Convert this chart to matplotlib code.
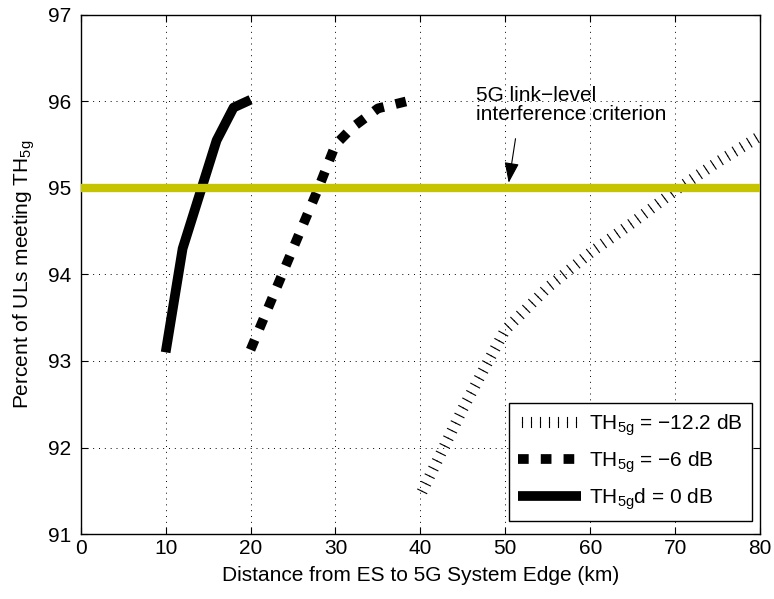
import numpy as np
import matplotlib
matplotlib.use("Agg")
import matplotlib.pyplot as plt
import matplotlib.patheffects as pe

plt.rcParams['font.family'] = ['Liberation Sans', 'DejaVu Sans']
plt.rcParams['mathtext.default'] = 'regular'
plt.rcParams['font.size'] = 15

# data
dist_hatched = [40, 42, 45, 48, 50, 55, 60, 65, 70, 75, 80]
pct_hatched = [91.45, 91.85, 92.45, 93.0, 93.36, 93.85, 94.25, 94.6, 94.97, 95.3, 95.6]

dist_dashed = [20, 25, 28, 30, 32, 35, 38.3]
pct_dashed = [93.13, 94.3, 95.0, 95.5, 95.7, 95.92, 96.0]

dist_solid = [10, 12, 16, 18, 20]
pct_solid = [93.1, 94.3, 95.55, 95.93, 96.02]

criterion = 95
labels = ['TH$_{5g}$ = \u221212.2 dB', 'TH$_{5g}$ = \u22126 dB', 'TH$_{5g}$d = 0 dB']

fig = plt.figure(figsize=(7.74, 5.99), dpi=100)
ax = fig.add_axes([0.1043, 0.1085, 0.8777, 0.8665])
ax.set_xlim(0, 80)
ax.set_ylim(91, 97)

# hatched line: ticks on both sides, no base stroke
ticks = [pe.TickedStroke(spacing=6, angle=90, length=0.6),
         pe.TickedStroke(spacing=6, angle=-90, length=0.6)]
ax.plot(dist_hatched, pct_hatched, color='k', lw=0.8,
        path_effects=ticks, label=labels[0], zorder=3)

# fit the dash period so the line starts and ends on a full square
lw_d = 7
pts = ax.transData.transform(np.column_stack([dist_dashed, pct_dashed]))
length_pt = np.sum(np.hypot(*np.diff(pts, axis=0).T)) * 72 / fig.dpi
dash = 1.1 * lw_d
n = round((length_pt - dash) / (2.4 * lw_d))
period = (length_pt - dash) / n
ax.plot(dist_dashed, pct_dashed, color='k', lw=lw_d,
        dashes=(dash / lw_d, (period - dash) / lw_d),
        label=labels[1], zorder=3)

ax.plot(dist_solid, pct_solid, color='k', lw=7, solid_capstyle='butt',
        label=labels[2], zorder=3)

ax.axhline(criterion, color='#c6c300', lw=6, zorder=4)

ax.text(46.6, 95.74, '5G link\u2212level\ninterference criterion',
        ha='left', va='bottom', linespacing=1.0, zorder=5)
ax.annotate('', xy=(50.4, 95.06), xytext=(51.2, 95.57),
            arrowprops=dict(arrowstyle='-|>,head_length=0.7,head_width=0.25',
                            color='k', lw=0.8, shrinkA=0, shrinkB=0,
                            mutation_scale=18),
            zorder=5)

ax.set_xticks(np.arange(0, 81, 10))
ax.set_yticks(np.arange(91, 98, 1))
ax.grid(True, color='k', lw=0.7, linestyle=(0, (1, 5)))
ax.tick_params(direction='in', top=True, right=True, length=5, width=0.8)
ax.tick_params(axis='y', pad=7)
for s in ax.spines.values():
    s.set_linewidth(1.0)

ax.set_xlabel('Distance from ES to 5G System Edge (km)', labelpad=6)
ax.set_ylabel('Percent of ULs meeting TH$_{5g}$', labelpad=8)

leg = ax.legend(loc='lower right', bbox_to_anchor=(752 / 774, 1 - 521 / 599),
                bbox_transform=fig.transFigure, borderaxespad=0,
                fancybox=False, edgecolor='k', framealpha=1,
                handlelength=3.0, handletextpad=0.4, labelspacing=0.55,
                borderpad=0.45)
leg.get_frame().set_linewidth(1.0)

fig.savefig('out.png', dpi=100)
